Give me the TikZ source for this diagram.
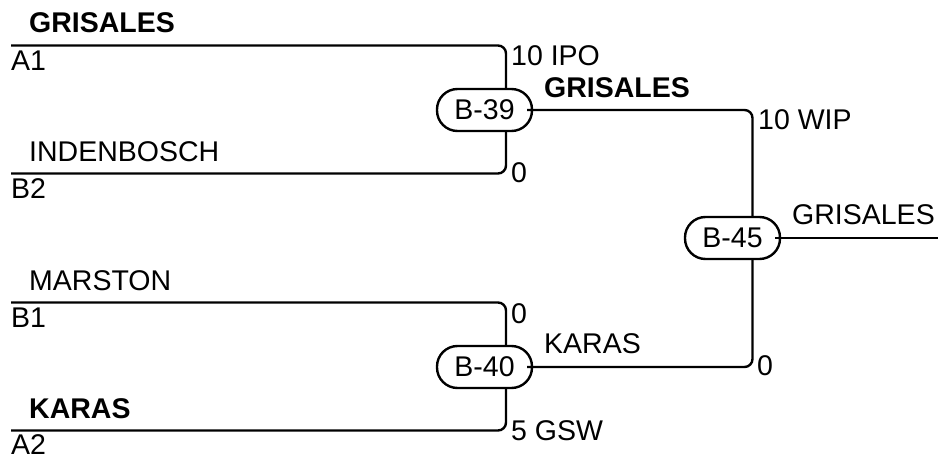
\documentclass[tikz,border=0pt]{standalone}
\usepackage{fontspec}
\setmainfont{Liberation Sans}
\usetikzlibrary{calc}
\begin{document}
\begin{tikzpicture}[x=1bp,y=-1bp,
  every node/.style={font=\fontsize{28.5bp}{32bp}\selectfont, text=black},
  lbl/.style={inner sep=0pt, anchor=base west},
  game/.style={draw, line width=2.4bp, rounded corners=20.5bp, minimum width=95bp, minimum height=42bp, inner sep=0pt},
  wire/.style={line width=2.4bp, rounded corners=8bp}]
\useasboundingbox (0,0) rectangle (938,455);
% games
\node[game] (b39) at (484.5,110) {B-39};
\node[game] (b40) at (484.5,367) {B-40};
\node[game] (b45) at (732.5,238) {B-45};
% free ends
\coordinate (a1) at (11,45.5);
\coordinate (b2) at (11,173.5);
\coordinate (b1) at (11,302.5);
\coordinate (a2) at (11,430.5);
\coordinate (out) at (938,238);
% wires
\draw[wire] (a1) -| ([xshift=21.5bp]b39.north);
\draw[wire] (b2) -| ([xshift=21.5bp]b39.south);
\draw[wire] (b1) -| ([xshift=21.5bp]b40.north);
\draw[wire] (a2) -| ([xshift=21.5bp]b40.south);
\draw[wire] ([xshift=-6bp]b39.east) -| ([xshift=20bp]b45.north);
\draw[wire] ([xshift=-6bp]b40.east) -| ([xshift=20bp]b45.south);
\draw[wire] ([xshift=-6bp]b45.east) -- (out);
% team labels
\node[lbl] (n1) at (29,33) {\textbf{GRISALES}};
\node[lbl] (s1) at (11,70.5) {A1};
\node[lbl] (n2) at (29,162) {INDENBOSCH};
\node[lbl] (s2) at (11,198.5) {B2};
\node[lbl] (n3) at (29,291) {MARSTON};
\node[lbl] (s3) at (11,327.5) {B1};
\node[lbl] (n4) at (29,418) {\textbf{KARAS}};
\node[lbl] (s4) at (11,454) {A2};
% scores
\node[lbl] (c1) at (511,66) {10 IPO};
\node[lbl] (c2) at (511,183) {0};
\node[lbl] (c3) at (511,323.5) {0};
\node[lbl] (c4) at (511,440) {5 GSW};
\node[lbl] (c5) at (758,130) {10 WIP};
\node[lbl] (c6) at (757,376) {0};
% winners
\node[lbl] (w1) at (544,98) {\textbf{GRISALES}};
\node[lbl] (w2) at (544,354) {KARAS};
\node[lbl] (w3) at (792,225) {GRISALES};
\end{tikzpicture}
\end{document}
